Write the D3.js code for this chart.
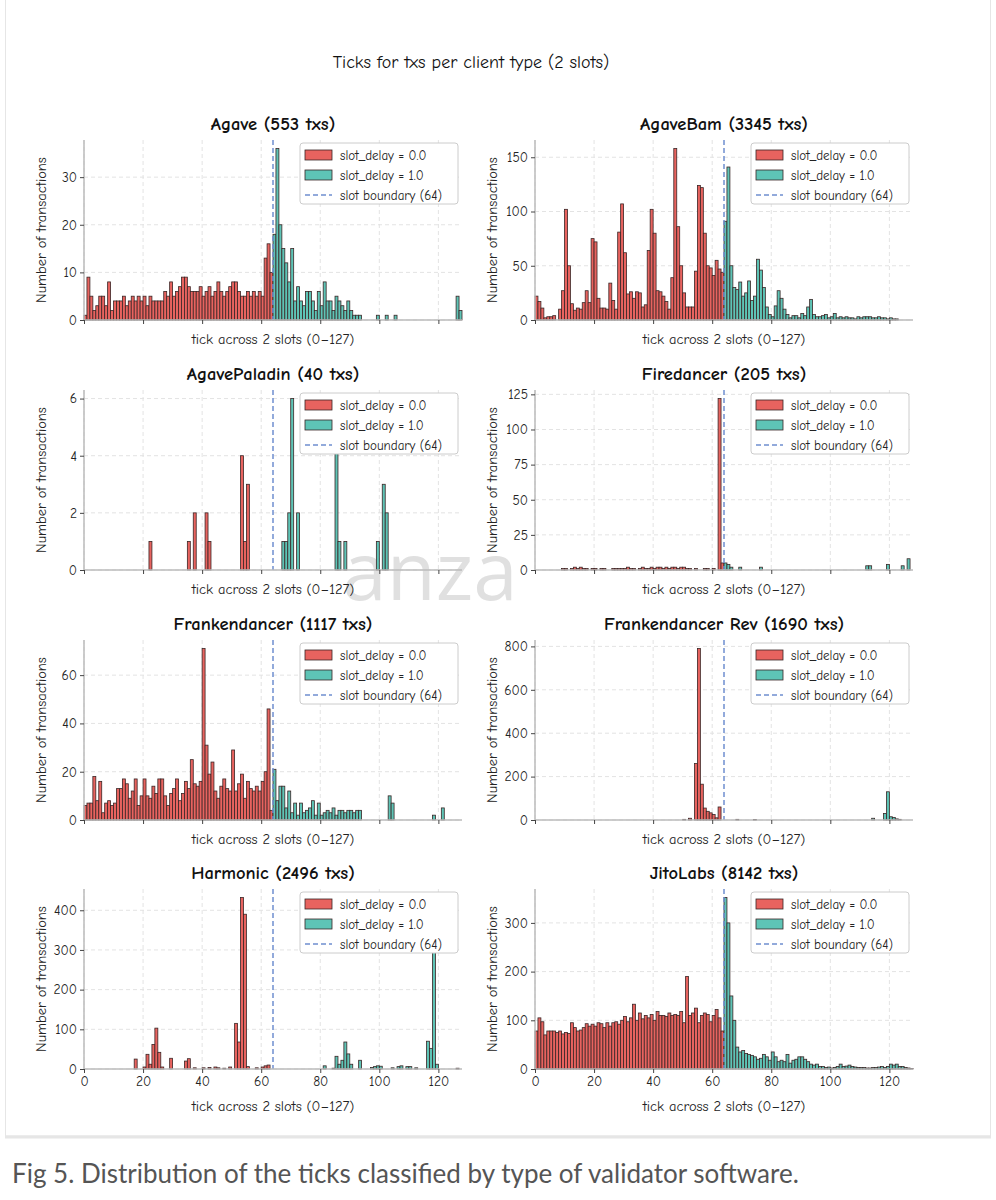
<!DOCTYPE html>
<html>
<head>
<meta charset="utf-8">
<script src="https://cdn.jsdelivr.net/npm/d3@7"></script>
<style>
  body { margin: 0; background: #fff; }
  svg { display: block; }
</style>
</head>
<body>
<svg id="chart" width="996" height="1200"></svg>
<script>
// counts per tick (0-127), 16 per row
var agave = [
  1,9,5,2,3,5,5,3,8,2,4,4,4,5,3,4,
  5,4,5,4,5,3,5,4,4,4,4,6,5,8,5,6,
  7,9,9,7,6,6,6,7,5,6,7,5,6,8,6,5,
  6,7,8,8,6,5,5,6,5,6,5,6,5,13,16,10,
  18,36,20,15,12,8,15,4,7,4,3,6,6,4,2,6,
  3,8,4,4,2,5,4,3,2,4,2,1,1,1,0,0,
  0,0,0,1,0,0,1,0,0,1,0,0,0,0,0,0,
  0,0,0,0,0,0,0,0,0,0,0,0,0,0,5,2]
var agaveBam = [
  22,17,11,2,3,3,4,0,10,27,102,50,15,9,11,10,
  16,27,16,75,72,20,11,11,10,34,18,10,81,107,62,24,
  26,20,26,25,12,14,64,102,80,27,26,22,17,10,39,158,
  86,50,25,12,12,12,45,124,122,80,50,48,41,55,47,44,
  91,141,50,30,28,35,22,25,36,18,22,56,46,30,12,5,
  3,13,27,20,10,5,2,4,4,2,6,4,12,19,5,3,
  3,4,5,2,3,6,2,3,2,3,2,2,1,3,2,3,
  3,3,2,2,3,2,2,1,2,1,1,0,0,0,0,0]
var agavePaladin = [
  0,0,0,0,0,0,0,0,0,0,0,0,0,0,0,0,
  0,0,0,0,0,0,1,0,0,0,0,0,0,0,0,0,
  0,0,0,1,0,2,0,0,0,2,1,0,0,0,0,0,
  0,0,0,0,0,4,1,3,0,0,0,0,0,0,0,0,
  0,0,0,1,1,2,6,0,2,0,0,0,0,0,0,0,
  0,0,0,0,0,5,1,0,1,0,0,0,0,0,0,0,
  0,0,0,1,0,3,2,0,0,0,0,0,0,0,0,0,
  0,0,0,0,0,0,0,0,0,0,0,0,0,0,0,0]
var firedancer = [
  0,0,0,0,0,0,0,0,0,1,1,0,1,2,1,2,
  1,1,0,1,1,0,1,1,0,0,1,1,1,1,1,2,
  1,1,0,1,2,1,1,2,1,2,2,1,2,1,2,2,
  1,2,2,1,1,0,1,0,0,1,1,0,1,0,122,5,
  5,4,2,0,0,2,0,0,0,0,0,0,2,0,0,0,
  0,0,0,0,0,0,0,0,0,0,0,0,0,0,0,0,
  0,0,0,0,0,0,0,0,0,0,0,0,0,0,0,0,
  3,3,0,0,0,0,0,4,0,0,0,0,3,0,8,0]
var frankendancer = [
  6,7,7,18,8,16,3,7,8,6,7,13,13,17,15,9,
  12,17,6,10,17,10,9,14,11,17,17,10,6,11,13,17,
  8,11,16,13,25,15,14,16,71,31,19,24,12,9,14,17,
  13,12,29,12,15,19,9,16,13,12,14,12,16,20,46,4,
  21,8,14,14,5,12,3,7,2,7,3,4,5,8,2,7,
  2,3,4,3,5,2,4,4,3,4,4,3,4,4,0,0,
  0,0,0,0,0,0,0,10,7,0,0,0,0,0,0,0,
  0,0,0,0,0,0,2,0,0,5,0,0,0,0,0,0]
var frankendancerRev = [
  0,0,0,0,0,0,0,0,0,0,0,0,0,0,0,0,
  0,0,0,0,0,0,0,0,0,0,0,0,0,0,0,0,
  0,0,0,0,0,0,0,0,0,0,0,0,0,0,0,0,
  0,0,3,0,8,0,260,790,165,55,40,33,25,10,60,0,
  0,0,0,0,3,0,0,0,0,0,2,0,0,0,0,0,
  0,0,0,0,0,0,0,0,0,0,0,0,0,0,0,0,
  0,0,0,0,0,0,0,0,0,0,0,0,0,0,0,0,
  0,0,8,0,0,0,30,130,15,12,5,3,0,0,0,0]
var harmonic = [
  0,0,0,0,0,0,0,0,0,0,0,0,0,0,0,0,
  0,25,0,0,5,37,12,62,103,42,5,0,0,27,0,0,
  0,0,20,26,0,3,0,0,3,0,4,0,5,3,0,2,
  0,5,0,115,68,432,390,6,0,0,3,0,5,8,10,0,
  0,0,0,0,0,0,0,0,0,0,0,0,0,0,0,0,
  0,8,0,0,2,32,12,22,68,38,12,0,0,22,0,0,
  0,4,6,8,7,0,0,0,3,0,6,8,0,6,6,0,
  3,0,0,0,70,52,400,12,0,0,0,0,0,0,2,0]
var jitoLabs = [
  78,105,97,70,78,78,78,75,78,72,75,73,95,85,78,80,
  85,93,88,92,88,95,93,85,95,88,95,97,92,100,108,97,
  105,133,100,115,103,110,105,112,100,118,110,110,108,115,110,112,
  110,118,95,190,110,115,125,95,110,115,112,97,110,122,105,78,
  352,300,150,100,45,35,38,32,30,28,25,20,22,30,25,18,
  35,25,15,18,15,30,12,18,20,25,25,20,15,10,8,10,
  5,5,3,4,2,3,5,10,5,6,8,5,4,3,3,3,
  2,2,3,3,4,5,3,5,10,8,10,5,5,3,2,1]

var titles = ["Agave (553 txs)", "AgaveBam (3345 txs)", "AgavePaladin (40 txs)", "Firedancer (205 txs)",
  "Frankendancer (1117 txs)", "Frankendancer Rev (1690 txs)", "Harmonic (2496 txs)", "JitoLabs (8142 txs)"]
var series = [agave, agaveBam, agavePaladin, firedancer, frankendancer, frankendancerRev, harmonic, jitoLabs]
var yTicks = [[0,10,20,30],[0,50,100,150],[0,2,4,6],[0,25,50,75,100,125],
  [0,20,40,60],[0,200,400,600,800],[0,100,200,300,400],[0,100,200,300]]
var xTicks = [0, 20, 40, 60, 80, 100, 120]
var legendLabels = ["slot_delay = 0.0", "slot_delay = 1.0", "slot boundary (64)"]
var boundary = 64

var RED = "#e8635f", TEAL = "#5ec4b6", EDGE = "#3a2626"
var FONT = "'Comic Sans MS', 'Comic Neue', 'DejaVu Sans', sans-serif"

var svg = d3.select("#chart")

// frame and caption
svg.append("rect").attr("x", 5.5).attr("y", -2).attr("width", 985).attr("height", 1138)
  .attr("fill", "#fff").attr("stroke", "#e6e6e6")
svg.append("line").attr("x1", 5).attr("x2", 991).attr("y1", 1137).attr("y2", 1137)
  .attr("stroke", "#e6e6e6").attr("stroke-width", 3)
svg.append("text").attr("x", 12).attr("y", 1183).text("Fig 5. Distribution of the ticks classified by type of validator software.")
  .attr("font-family", "Lato, 'Open Sans', sans-serif").attr("font-size", 26).attr("fill", "#555")

// watermark (under the charts)
svg.append("text").attr("x", 430).attr("y", 600).attr("text-anchor", "middle")
  .attr("font-family", "'Open Sans', sans-serif").attr("font-size", 80).attr("fill", "#bbb")
  .attr("opacity", 0.45).text("anza")

svg.append("text").attr("x", 471).attr("y", 68).attr("text-anchor", "middle")
  .attr("font-family", FONT).attr("font-size", 18).attr("fill", "#111")
  .text("Ticks for txs per client type (2 slots)")

var colX = [84, 535], plotW = 378, plotH = 180
var rowY = [140, 390, 640, 889]

series.forEach(function (counts, i) {
  var col = i % 2, row = Math.floor(i / 2)
  var g = svg.append("g").attr("transform", "translate(" + colX[col] + "," + rowY[row] + ")")
  var x = d3.scaleLinear().domain([0, 128]).range([0, plotW])
  var ymax = d3.max(counts) * 1.05
  var y = d3.scaleLinear().domain([0, ymax]).range([plotH, 0])

  // grid
  g.selectAll(".gx").data(xTicks).enter().append("line")
    .attr("x1", function (d) { return x(d) }).attr("x2", function (d) { return x(d) })
    .attr("y1", 0).attr("y2", plotH)
    .attr("stroke", "#e3e3e3").attr("stroke-dasharray", "4,3")
  g.selectAll(".gy").data(yTicks[i]).enter().append("line")
    .attr("x1", 0).attr("x2", plotW)
    .attr("y1", function (d) { return y(d) }).attr("y2", function (d) { return y(d) })
    .attr("stroke", "#e3e3e3").attr("stroke-dasharray", "4,3")

  // bars
  var data = counts.map(function (c, t) { return { t: t, c: c } }).filter(function (d) { return d.c > 0 })
  g.selectAll(".bar").data(data).enter().append("rect")
    .attr("x", function (d) { return x(d.t) })
    .attr("width", x(1) - x(0))
    .attr("y", function (d) { return y(d.c) })
    .attr("height", function (d) { return plotH - y(d.c) })
    .attr("fill", function (d) { return d.t < boundary ? RED : TEAL })
    .attr("stroke", EDGE).attr("stroke-width", 0.8)

  // boundary
  g.append("line").attr("x1", x(boundary)).attr("x2", x(boundary)).attr("y1", 0).attr("y2", plotH)
    .attr("stroke", "#6f8fcf").attr("stroke-width", 1.5).attr("stroke-dasharray", "5,3")

  // axes
  var yAxis = d3.axisLeft(y).tickValues(yTicks[i]).tickFormat(d3.format("d")).tickSize(4)
  var ya = g.append("g").call(yAxis)
  var xAxis = d3.axisBottom(x).tickValues(xTicks).tickSize(4)
  if (row < 3) xAxis.tickFormat("")
  var xa = g.append("g").attr("transform", "translate(0," + plotH + ")").call(xAxis)
  ;[ya, xa].forEach(function (a) {
    a.select(".domain").attr("stroke", "#bbb").attr("stroke-width", 1.5)
    a.selectAll(".tick line").attr("stroke", "#444")
    a.selectAll("text").attr("font-family", FONT).attr("font-size", 13.5).attr("fill", "#222")
  })
  ya.select(".domain").attr("d", "M0,0V" + plotH)
  xa.select(".domain").attr("d", "M0,0H" + plotW)

  g.append("text").attr("x", plotW / 2).attr("y", plotH + (row < 3 ? 24 : 42)).attr("text-anchor", "middle")
    .attr("font-family", FONT).attr("font-size", 14.5).attr("fill", "#222").text("tick across 2 slots (0–127)")
  g.append("text").attr("transform", "translate(-38," + plotH / 2 + ") rotate(-90)")
    .attr("text-anchor", "middle").attr("font-family", FONT).attr("font-size", 14.5).attr("fill", "#222")
    .text("Number of transactions")
  g.append("text").attr("x", plotW / 2).attr("y", -10).attr("text-anchor", "middle")
    .attr("font-family", FONT).attr("font-size", 18.5).attr("font-weight", "bold").attr("fill", "#111")
    .text(titles[i])

  // legend
  var lg = g.append("g").attr("transform", "translate(" + (plotW - 162) + ",3)")
  lg.append("rect").attr("width", 158).attr("height", 61).attr("rx", 3)
    .attr("fill", "#fff").attr("stroke", "#ccc")
  legendLabels.forEach(function (lab, k) {
    var yy = 12 + k * 20
    if (k < 2) {
      lg.append("rect").attr("x", 5).attr("y", yy - 5).attr("width", 27).attr("height", 10)
        .attr("fill", k === 0 ? RED : TEAL).attr("stroke", EDGE).attr("stroke-width", 0.8)
    } else {
      lg.append("line").attr("x1", 5).attr("x2", 32).attr("y1", yy).attr("y2", yy)
        .attr("stroke", "#6f8fcf").attr("stroke-width", 1.5).attr("stroke-dasharray", "5,3")
    }
    lg.append("text").attr("x", 40).attr("y", yy + 4.5).attr("font-family", FONT).attr("font-size", 13)
      .attr("fill", "#222").text(lab)
  })
})
</script>
</body>
</html>
